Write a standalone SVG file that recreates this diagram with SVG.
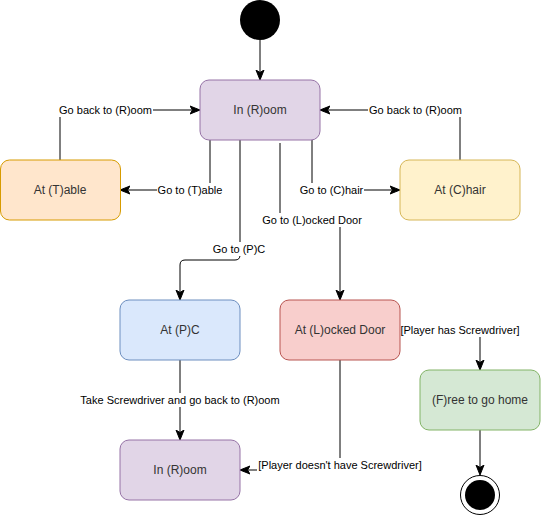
<svg xmlns="http://www.w3.org/2000/svg" width="541" height="521" viewBox="0 0 541 521">
<style>
.node text{font-family:"Liberation Sans",Arial,sans-serif;font-size:12px;fill:#333;text-anchor:middle;dominant-baseline:central}
.edges path{fill:none;stroke:#000;stroke-width:1}
.lbl rect{fill:#fff}
.lbl text{font-family:"Liberation Sans",Arial,sans-serif;font-size:11px;fill:#000;text-anchor:middle;dominant-baseline:central}
</style>
<defs>
<marker id="arr" viewBox="0 0 10 10" refX="9" refY="5" markerWidth="10" markerHeight="10" markerUnits="userSpaceOnUse" orient="auto">
<path d="M0,1 L10,5 L0,9 L2.5,5 z" fill="#000" stroke="#000"/>
</marker>
</defs>
<rect width="541" height="521" fill="#fff"/>
<g class="edges">
<path d="M260,40 V79" marker-end="url(#arr)"/>
<path d="M60,160 V110 H199" marker-end="url(#arr)"/>
<path d="M460,160 V110 H321" marker-end="url(#arr)"/>
<path d="M210,140 V190 H121" marker-end="url(#arr)"/>
<path d="M312,140 V190 H399" marker-end="url(#arr)"/>
<path d="M280,143 V220 H340 V299" marker-end="url(#arr)"/>
<path d="M240,140 V255 Q240,260 235,260 H185 Q180,260 180,265 V299" marker-end="url(#arr)"/>
<path d="M180,360 V439" marker-end="url(#arr)"/>
<path d="M340,360 V470 H241" marker-end="url(#arr)"/>
<path d="M400,330 H480 V369" marker-end="url(#arr)"/>
<path d="M480,430 V474" marker-end="url(#arr)"/>
<g class="lbl">
<rect x="58" y="103" width="95" height="14"/><text x="105.5" y="110">Go back to (R)oom</text>
<rect x="368" y="103" width="95" height="14"/><text x="415.5" y="110">Go back to (R)oom</text>
<rect x="157" y="183" width="66" height="14"/><text x="190" y="190">Go to (T)able</text>
<rect x="299" y="183" width="65" height="14"/><text x="331.5" y="190">Go to (C)hair</text>
<rect x="261" y="213" width="102" height="14"/><text x="312" y="220">Go to (L)ocked Door</text>
<rect x="212" y="242" width="54" height="14"/><text x="239" y="249">Go to (P)C</text>
<rect x="79" y="393" width="202" height="14"/><text x="180" y="400">Take Screwdriver and go back to (R)oom</text>
<rect x="257" y="458" width="166" height="14"/><text x="340" y="465">[Player doesn't have Screwdriver]</text>
<rect x="400" y="323" width="121" height="14"/><text x="460" y="330">[Player has Screwdriver]</text>
</g>
</g>
<g id="start" class="node"><circle cx="260" cy="20" r="20" fill="#000"/></g>
<g id="room" class="node"><rect x="200" y="80" width="120" height="60" rx="9" fill="#e1d5e7" stroke="#9673a6"/><text x="260" y="110">In (R)oom</text></g>
<g id="table" class="node"><rect x="0.5" y="160" width="120" height="60" rx="9" fill="#ffe6cc" stroke="#d79b00"/><text x="60" y="190">At (T)able</text></g>
<g id="chair" class="node"><rect x="400" y="160" width="120" height="60" rx="9" fill="#fff2cc" stroke="#d6b656"/><text x="460" y="190">At (C)hair</text></g>
<g id="pc" class="node"><rect x="120" y="300" width="120" height="60" rx="9" fill="#dae8fc" stroke="#6c8ebf"/><text x="180" y="330">At (P)C</text></g>
<g id="door" class="node"><rect x="280" y="300" width="120" height="60" rx="9" fill="#f8cecc" stroke="#b85450"/><text x="340" y="330">At (L)ocked Door</text></g>
<g id="free" class="node"><rect x="420" y="370" width="120" height="60" rx="9" fill="#d5e8d4" stroke="#82b366"/><text x="480" y="400">(F)ree to go home</text></g>
<g id="room2" class="node"><rect x="120" y="440" width="120" height="60" rx="9" fill="#e1d5e7" stroke="#9673a6"/><text x="180" y="470">In (R)oom</text></g>
<g id="end" class="node"><circle cx="480" cy="495" r="19.5" fill="#fff" stroke="#000"/><circle cx="480" cy="495" r="15" fill="#000"/></g>
</svg>
